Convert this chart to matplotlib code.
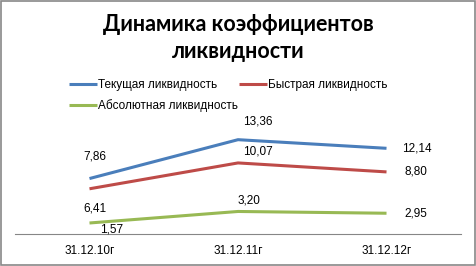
import matplotlib
matplotlib.use("Agg")
import matplotlib.pyplot as plt
from matplotlib.patches import Rectangle

# данные с графика
periods = ["31.12.10г", "31.12.11г", "31.12.12г"]
tekushaya = [7.86, 13.36, 12.14]
bystraya = [6.41, 10.07, 8.80]
absolutnaya = [1.57, 3.20, 2.95]

names = ["Текущая ликвидность", "Быстрая ликвидность", "Абсолютная ликвидность"]
colors = ["#4a7ebb", "#be4b48", "#98b954"]

# смещения подписей (в пунктах) для каждой серии
offsets = [
    [(4, 16), (14, 13), (22, 0)],
    [(4, -14), (14, 8), (21, 0)],
    [(16, -5), (8, 8), (21, 0)],
]

plt.rcParams["font.family"] = ["Liberation Sans", "DejaVu Sans"]

fig = plt.figure(figsize=(4.76, 2.66), dpi=100)
ax = fig.add_axes([0.032, 0.12, 0.936, 0.425])

x = list(range(len(periods)))
lines = []
for vals, name, col, offs in zip([tekushaya, bystraya, absolutnaya], names, colors, offsets):
    ln, = ax.plot(x, vals, color=col, lw=2.2, solid_capstyle="butt", label=name)
    lines.append(ln)
    for xi, v, off in zip(x, vals, offs):
        ax.annotate(f"{v:.2f}".replace(".", ","), (xi, v), xytext=off,
                    textcoords="offset points", ha="center", va="center",
                    fontsize=8.5, color="#000000")

ax.set_xlim(-0.5, 2.5)
ax.set_ylim(0, 16)
ax.set_xticks(x)
ax.set_xticklabels(periods, fontsize=8.5)
ax.tick_params(axis="x", length=0, pad=8)
ax.set_yticks([])
for s in ["top", "right", "left"]:
    ax.spines[s].set_visible(False)
ax.spines["bottom"].set_color("#868686")
ax.spines["bottom"].set_linewidth(0.8)

# легенда: matplotlib заполняет по столбцам
leg = fig.legend([lines[0], lines[2], lines[1]], [names[0], names[2], names[1]],
                 ncol=2, loc="upper left", bbox_to_anchor=(0.134, 0.72),
                 frameon=False, fontsize=8.5, handlelength=2.4, handletextpad=0.1,
                 columnspacing=0.05, labelspacing=0.68, borderaxespad=0)

fig.text(0.5, 0.857, "Динамика коэффициентов\nликвидности", ha="center",
         va="center", fontsize=15.5, fontweight="bold", family="Lato",
         linespacing=1.3)

fig.patches.append(Rectangle((0.002, 0.004), 0.995, 0.992, transform=fig.transFigure,
                             fill=False, edgecolor="#888888", lw=1.2))

fig.savefig("out.png", dpi=100, facecolor="white")
